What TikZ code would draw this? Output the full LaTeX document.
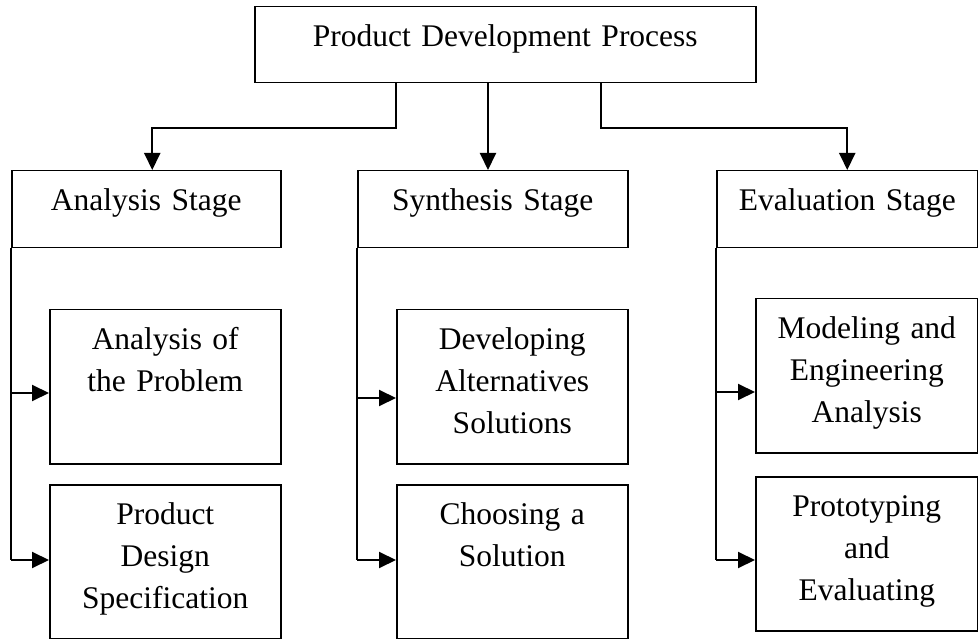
\documentclass[tikz,border=0pt]{standalone}
\usepackage{fontspec}
\setmainfont{Liberation Serif}
\usetikzlibrary{arrows.meta,positioning,calc}

\begin{document}
\begin{tikzpicture}[
  x=1pt,y=-1pt,
  >={Triangle[length=17pt,width=16pt]},
  font=\fontsize{31.5pt}{42pt}\selectfont,
  box/.style={draw,line width=1.5pt,anchor=north west,align=center,
    inner sep=0pt,text height=39.5pt},
  process/.style={box,text width=501pt,text depth=36.5pt},
  stage/.style={box,text depth=37.5pt},
  task/.style={box,text depth=114.5pt},
  link/.style={line width=2pt},
  arr/.style={->,line width=2pt}
]
\useasboundingbox (0,0) rectangle (978,639);
\node[process] (main) at (254,6) {Product Development Process};
\node[stage,text width=269pt] (ana) at (11,170) {Analysis Stage};
\node[stage,text width=270pt] (syn) at (357,170) {Synthesis Stage};
\node[stage,text width=261pt] (eva) at (716,170) {Evaluation Stage};
\node[task,text width=231pt] (a1) at (49,309) {Analysis of\\ the Problem};
\node[task,text width=231pt] (a2) at (49,484) {Product\\ Design\\ Specification};
\node[task,text width=231pt] (s1) at (396,309) {Developing\\ Alternatives\\ Solutions};
\node[task,text width=231pt] (s2) at (396,484) {Choosing a\\ Solution};
\node[task,text width=222pt] (e1) at (755,298) {Modeling and\\ Engineering\\ Analysis};
\node[task,text width=222pt] (e2) at (755,476) {Prototyping\\ and\\ Evaluating};
% branches from the top box
\coordinate (j1) at (396,128);
\coordinate (j2) at (488,128);
\coordinate (j3) at (601,128);
\draw[arr] (j1 |- main.south) -- (j1) -| ([xshift=6pt]ana.north);
\draw[arr] (j2 |- main.south) -- (j2 |- syn.north);
\draw[arr] (j3 |- main.south) -- (j3) -| (eva.north);
% analysis column
\coordinate (ta1) at (11,393);
\coordinate (ta2) at (11,560);
\draw[link] (ana.south west) -- (ta2);
\draw[arr] (ta1) -- (ta1 -| a1.west);
\draw[arr] (ta2) -- (ta2 -| a2.west);
% synthesis column
\coordinate (ts1) at (357,398);
\coordinate (ts2) at (357,560);
\draw[link] (syn.south west) -- (ts2);
\draw[arr] (ts1) -- (ts1 -| s1.west);
\draw[arr] (ts2) -- (ts2 -| s2.west);
% evaluation column
\coordinate (te1) at (716,392);
\coordinate (te2) at (716,560);
\draw[link] (eva.south west) -- (te2);
\draw[arr] (te1) -- (te1 -| e1.west);
\draw[arr] (te2) -- (te2 -| e2.west);
\end{tikzpicture}
\end{document}
